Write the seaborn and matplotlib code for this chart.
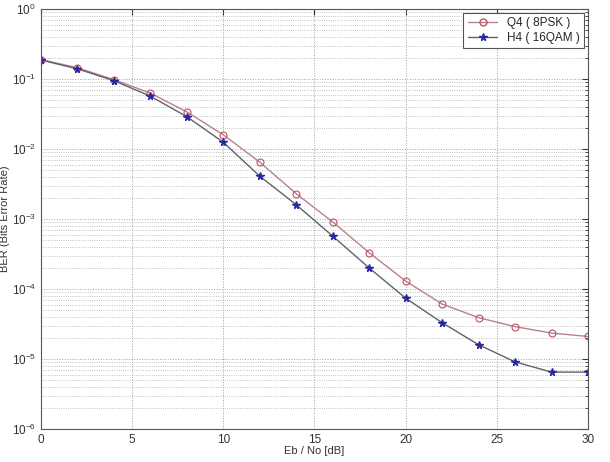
import numpy as np
import pandas as pd
import matplotlib
matplotlib.use("Agg")
import matplotlib.pyplot as plt
import seaborn as sns
from matplotlib.ticker import FixedLocator, NullFormatter, LogFormatterSciNotation
from matplotlib.lines import Line2D

ebno = [0, 2, 4, 6, 8, 10, 12, 14, 16, 18, 20, 22, 24, 26, 28, 30]
q4_8psk = [0.19, 0.145, 0.098, 0.063, 0.034, 0.016, 0.0065, 0.0023, 0.00091, 0.00033,
           1.3e-4, 6.1e-5, 3.9e-5, 2.9e-5, 2.35e-5, 2.1e-5]
h4_16qam = [0.187, 0.14, 0.095, 0.057, 0.029, 0.0125, 0.0041, 0.0016, 0.00057, 0.0002,
            7.4e-5, 3.3e-5, 1.6e-5, 9.1e-6, 6.5e-6, 6.5e-6]
series_names = ["Q4 ( 8PSK )", "H4 ( 16QAM )"]
x_ticks = [0, 5, 10, 15, 20, 25, 30]
y_decades = [1e-6, 1e-5, 1e-4, 1e-3, 1e-2, 1e-1, 1e0]

df = pd.DataFrame({
    "Eb/No": ebno * 2,
    "BER": q4_8psk + h4_16qam,
    "series": [series_names[0]] * len(ebno) + [series_names[1]] * len(ebno),
})

sns.set_style("white")
plt.rcParams["font.family"] = ["Liberation Sans", "DejaVu Sans"]

fig = plt.figure(figsize=(6.10, 4.62), dpi=100)
ax = fig.add_axes([0.067, 0.0714, 0.897, 0.909])

line_q4 = "#b88090"
line_h4 = "#606070"
palette = {series_names[0]: line_q4, series_names[1]: line_h4}
sns.lineplot(data=df, x="Eb/No", y="BER", hue="series", palette=palette, ax=ax,
             legend=False, linewidth=1.0)
ax.plot(ebno, q4_8psk, linestyle="none", marker="o", markersize=5, markerfacecolor="none",
        markeredgecolor="#c05060", markeredgewidth=0.8)
ax.plot(ebno, h4_16qam, linestyle="none", marker="*", markersize=5.5, color="#2828a0")

ax.set_yscale("log")
ax.set_xlim(0, 30)
ax.set_ylim(1e-6, 1)
ax.set_xticks(x_ticks)
ax.yaxis.set_major_locator(FixedLocator(y_decades))
ax.yaxis.set_major_formatter(LogFormatterSciNotation())
minor = [m * d for d in y_decades[:-1] for m in range(2, 10)]
ax.yaxis.set_minor_locator(FixedLocator(minor))
ax.yaxis.set_minor_formatter(NullFormatter())
ax.grid(True, which="major", axis="both", linestyle=":", color="#a0a0a0", linewidth=0.7)
ax.grid(True, which="minor", axis="y", linestyle=":", color="#b0b0b0", linewidth=0.6)
ax.tick_params(axis="both", which="both", direction="in", labelsize=8.5, colors="#333333")
ax.tick_params(which="major", length=4)
ax.tick_params(which="minor", length=2)
ax.tick_params(top=True, right=True, which="both")
for s in ax.spines.values():
    s.set_color("#555555")
    s.set_linewidth(0.8)

ax.set_xlabel("Eb / No [dB]", fontsize=8, color="#333333", labelpad=0)
ax.set_ylabel("BER (Bits Error Rate)", fontsize=8, color="#333333", labelpad=1)

handles = [
    Line2D([], [], color=line_q4, marker="o", markerfacecolor="none",
           markeredgecolor="#c05060", markersize=5, linewidth=1.0),
    Line2D([], [], color=line_h4, marker="*", markerfacecolor="#2828a0",
           markeredgecolor="#2828a0", markersize=5.5, linewidth=1.0),
]
leg = ax.legend(handles, series_names, loc="upper right", fontsize=8.5, frameon=True,
                fancybox=False, edgecolor="#555555", framealpha=1, borderpad=0.4,
                handlelength=2.5, labelspacing=0.2, borderaxespad=0.3)
leg.get_frame().set_linewidth(0.8)

fig.savefig("out.png", dpi=100)
